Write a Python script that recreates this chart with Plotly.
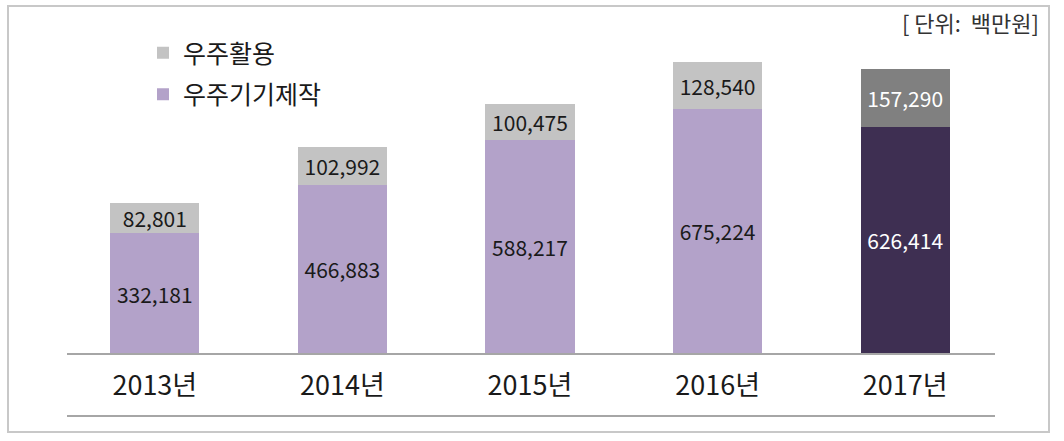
import plotly.graph_objects as go

years = ["2013년", "2014년", "2015년", "2016년", "2017년"]
manufacturing = [332181, 466883, 588217, 675224, 626414]   # 우주기기제작
utilization = [82801, 102992, 100475, 128540, 157290]       # 우주활용
series_names = ["우주기기제작", "우주활용"]
unit_label = "[ 단위:  백만원]"

W, H = 1064, 441
L, R, T, B = 61, 65, 20, 87
PW, PH = W - L - R, H - T - B


def px_x(p):
    return (p - L) / PW


def px_y(p):
    return (H - B - p) / PH


FONT_NUM = "Noto Sans CJK KR, sans-serif"
FONT_KR = "Noto Sans CJK KR, sans-serif"

manu_colors = ["#b3a2c9"] * 4 + ["#3e2f52"]
util_colors = ["#c3c3c3"] * 4 + ["#808080"]
manu_text_colors = ["#1a1a1a"] * 4 + ["#ffffff"]
util_text_colors = ["#1a1a1a"] * 4 + ["#ffffff"]

fig = go.Figure()
fig.add_trace(go.Bar(
    x=years, y=manufacturing, name=series_names[0],
    marker=dict(color=manu_colors, line=dict(width=0)),
    text=[f"{v:,}" for v in manufacturing], textposition="inside",
    insidetextanchor="middle", constraintext="none", textangle=0,
    textfont=dict(family=FONT_NUM, size=21, color=manu_text_colors),
    legendgroup="a", legendrank=2,
))
fig.add_trace(go.Bar(
    x=years, y=utilization, name=series_names[1],
    marker=dict(color=util_colors, line=dict(width=0)),
    text=[f"{v:,}" for v in utilization], textposition="inside",
    insidetextanchor="middle", constraintext="none", textangle=0,
    textfont=dict(family=FONT_NUM, size=21, color=util_text_colors),
    legendgroup="b", legendrank=1,
))

fig.update_layout(
    width=W, height=H,
    margin=dict(l=L, r=R, t=T, b=B),
    barmode="stack", bargap=0.525,
    plot_bgcolor="white", paper_bgcolor="white",
    showlegend=True,
    legend=dict(
        x=px_x(143), y=px_y(30), xanchor="left", yanchor="top",
        font=dict(family=FONT_KR, size=25, color="#1a1a1a"),
        traceorder="grouped", tracegroupgap=6,
        bgcolor="rgba(0,0,0,0)", itemwidth=30,
    ),
    xaxis=dict(
        type="category", range=[-0.5, 4.5], showgrid=False, zeroline=False,
        showline=False, ticks="", ticklabelstandoff=13,
        tickfont=dict(family=FONT_NUM, size=27, color="#1a1a1a"),
    ),
    yaxis=dict(range=[0, 920000], visible=False, showgrid=False, zeroline=False),
    shapes=[
        dict(type="line", xref="paper", yref="paper",
             x0=px_x(67), x1=px_x(995), y0=px_y(354), y1=px_y(354),
             line=dict(color="#a6a6a6", width=2), layer="above"),
        dict(type="line", xref="paper", yref="paper",
             x0=px_x(67), x1=px_x(995), y0=px_y(416), y1=px_y(416),
             line=dict(color="#a6a6a6", width=2)),
        dict(type="rect", xref="paper", yref="paper",
             x0=px_x(8), x1=px_x(1049), y0=px_y(432), y1=px_y(6),
             line=dict(color="#c8c8c8", width=2)),
    ],
    annotations=[
        dict(text=unit_label, xref="paper", yref="paper",
             x=px_x(1041), y=px_y(22), xanchor="right", yanchor="middle",
             showarrow=False,
             font=dict(family=FONT_KR, size=22, color="#333333")),
    ],
)

fig.write_html("out.html")
